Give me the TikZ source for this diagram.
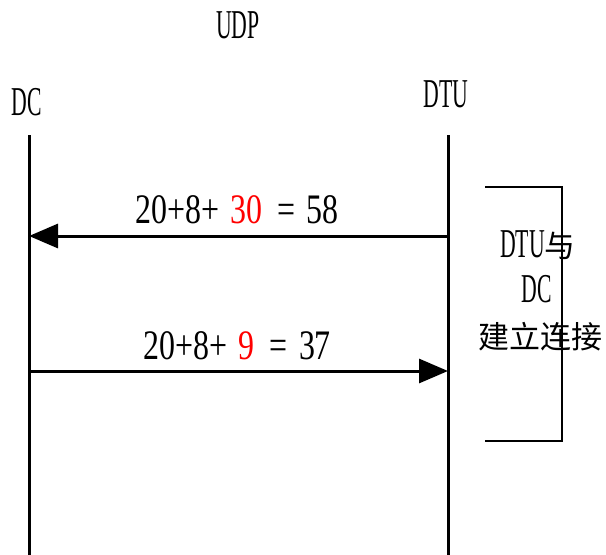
\documentclass[tikz,border=0pt]{standalone}
\usepackage{fontspec}
\setmainfont{Liberation Serif}
\newfontfamily\capfont[FakeStretch=0.53]{Liberation Serif}
\newfontfamily\numfont[FakeStretch=0.76]{Liberation Serif}
\newfontfamily\cjk{Noto Sans CJK SC}
\usetikzlibrary{arrows.meta}
\begin{document}
\begin{tikzpicture}[x=1pt,y=-1pt,
  lifeline/.style={line width=3pt},
  msg/.style={line width=3pt,-{Triangle[length=29pt,width=24pt]}},
  brk/.style={line width=1.5pt},
  captext/.style={anchor=base,inner sep=0pt,font=\capfont\fontsize{41}{42}\selectfont},
  eqtext/.style={anchor=base west,inner sep=0pt,font=\numfont\fontsize{42}{42}\selectfont},
  cjktext/.style={anchor=base,inner sep=0pt,font=\cjk\fontsize{31}{31}\selectfont}]
\useasboundingbox (0,0) rectangle (606,555);
% headers
\node[captext] (udp) at (238,38) {UDP};
\node[captext] (dc) at (27,115) {DC};
\node[captext] (dtu) at (446,107) {DTU};
% lifelines
\coordinate (dcTop) at (29,135);
\coordinate (dcBot) at (29,556);
\coordinate (dtuTop) at (448,135);
\coordinate (dtuBot) at (448,556);
\draw[lifeline] (dcTop) -- (dcBot);
\draw[lifeline] (dtuTop) -- (dtuBot);
% messages
\coordinate (m1s) at (448,236);
\coordinate (m1e) at (29,236);
\coordinate (m2s) at (29,371);
\coordinate (m2e) at (448,371);
\draw[msg] (m1s) -- (m1e);
\draw[msg] (m2s) -- (m2e);
\node[eqtext] (eq1) at (135,223) {20+8+\hspace{11pt}\textcolor{red}{30}\hspace{15pt}=\hspace{12pt}58};
\node[eqtext] (eq2) at (143,359) {20+8+\hspace{11pt}\textcolor{red}{9}\hspace{15pt}=\hspace{12pt}37};
% bracket
\coordinate (b1) at (485,187);
\coordinate (b2) at (562,187);
\coordinate (b3) at (562,441);
\coordinate (b4) at (485,441);
\draw[brk] (b1) -- (b2) -- (b3) -- (b4);
% side text
\node[anchor=base,inner sep=0pt] (t1) at (538,257) {{\capfont\fontsize{41}{42}\selectfont DTU}{\cjk\fontsize{31}{31}\selectfont 与}};
\node[captext] (t2) at (537,302) {DC};
\node[cjktext] (t3) at (540,348) {建立连接};
\end{tikzpicture}
\end{document}
